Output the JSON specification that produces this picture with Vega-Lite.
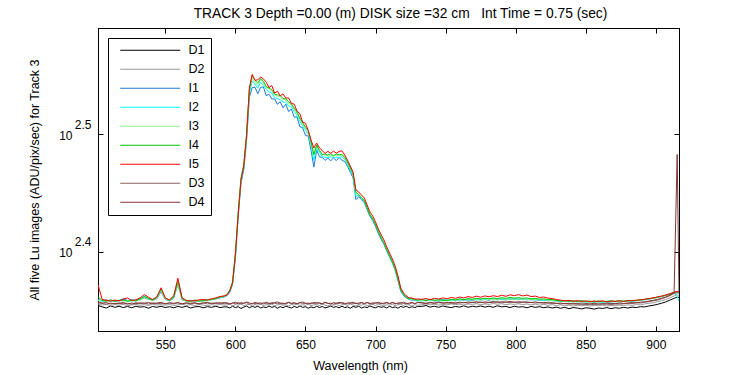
{
"$schema": "https://vega.github.io/schema/vega-lite/v6.json",
"width": 581, "height": 303,
"autosize": "none",
"padding": {"left": 98, "top": 28, "right": 71, "bottom": 44},
"background": "white",
"config": {
  "view": {"stroke": "black", "strokeWidth": 1},
  "font": "Liberation Sans",
  "axis": {"labelFont": "Liberation Sans", "titleFont": "Liberation Sans", "labelColor": "black", "titleColor": "black", "domainColor": "black", "tickColor": "black", "labelFontSize": 12, "titleFontSize": 12.5, "titleFontWeight": "normal", "grid": false, "tickSize": -5, "domainWidth": 1, "tickWidth": 1}
},
"title": {"text": "TRACK 3 Depth =0.00 (m) DISK size =32 cm\u00a0\u00a0\u00a0Int Time = 0.75 (sec)", "font": "Liberation Sans", "fontSize": 13.8, "fontWeight": "normal", "color": "black", "offset": 7, "dx": 12},
"data": {"values": [
{"w":502,"D1":226.2,"D2":226.9,"I1":228.9,"I2":228.6,"I3":228.4,"I4":230.1,"I5":235.6,"D3":227.4,"D4":227.9},
{"w":505,"D1":225.6,"D2":226.4,"I1":228.3,"I2":228.1,"I3":228.6,"I4":228.4,"I5":228.9,"D3":227.1,"D4":227.3},
{"w":508,"D1":225.1,"D2":226.7,"I1":228.7,"I2":228.4,"I3":227.9,"I4":228.2,"I5":228.5,"D3":226.8,"D4":227.5},
{"w":511,"D1":226.0,"D2":226.2,"I1":228.1,"I2":228.5,"I3":228.3,"I4":228.8,"I5":228.2,"D3":227.3,"D4":226.9},
{"w":514,"D1":225.4,"D2":226.6,"I1":228.5,"I2":228.0,"I3":228.1,"I4":228.0,"I5":228.6,"D3":226.9,"D4":227.2},
{"w":517,"D1":225.9,"D2":226.3,"I1":228.2,"I2":228.6,"I3":228.4,"I4":228.5,"I5":228.3,"D3":227.4,"D4":227.0},
{"w":520,"D1":225.3,"D2":226.8,"I1":229.3,"I2":228.8,"I3":228.2,"I4":228.6,"I5":229.0,"D3":227.0,"D4":227.6},
{"w":523,"D1":225.8,"D2":226.1,"I1":228.4,"I2":228.2,"I3":228.6,"I4":228.1,"I5":229.6,"D3":227.2,"D4":226.8},
{"w":526,"D1":225.2,"D2":226.5,"I1":228.8,"I2":228.4,"I3":228.0,"I4":228.6,"I5":228.4,"D3":226.7,"D4":227.3},
{"w":529,"D1":225.9,"D2":226.7,"I1":228.2,"I2":228.7,"I3":228.4,"I4":228.3,"I5":228.8,"D3":227.5,"D4":227.0},
{"w":532,"D1":225.5,"D2":226.3,"I1":228.7,"I2":229.0,"I3":228.5,"I4":229.2,"I5":229.6,"D3":227.0,"D4":227.4},
{"w":535,"D1":225.7,"D2":226.6,"I1":229.6,"I2":230.5,"I3":229.8,"I4":230.2,"I5":231.1,"D3":227.3,"D4":227.2},
{"w":538,"D1":225.0,"D2":226.2,"I1":229.0,"I2":229.3,"I3":228.9,"I4":229.4,"I5":229.9,"D3":226.8,"D4":227.5},
{"w":541,"D1":225.8,"D2":226.8,"I1":228.6,"I2":228.8,"I3":228.3,"I4":228.7,"I5":228.9,"D3":227.4,"D4":227.1},
{"w":544,"D1":225.4,"D2":226.4,"I1":229.2,"I2":229.6,"I3":229.3,"I4":229.9,"I5":230.1,"D3":227.0,"D4":227.3},
{"w":547,"D1":225.9,"D2":226.6,"I1":232.4,"I2":233.3,"I3":232.9,"I4":233.6,"I5":234.2,"D3":227.2,"D4":227.6},
{"w":550,"D1":225.3,"D2":226.3,"I1":228.9,"I2":229.3,"I3":229.1,"I4":229.7,"I5":229.6,"D3":226.9,"D4":227.0},
{"w":553,"D1":225.7,"D2":226.7,"I1":228.3,"I2":228.6,"I3":228.4,"I4":228.5,"I5":228.7,"D3":227.3,"D4":227.4},
{"w":556,"D1":225.2,"D2":226.2,"I1":229.4,"I2":229.8,"I3":229.6,"I4":230.0,"I5":230.6,"D3":226.9,"D4":227.2},
{"w":559,"D1":225.8,"D2":226.5,"I1":236.0,"I2":236.6,"I3":236.2,"I4":237.1,"I5":238.6,"D3":227.4,"D4":227.5},
{"w":562,"D1":225.4,"D2":226.8,"I1":228.7,"I2":229.2,"I3":229.0,"I4":229.4,"I5":229.6,"D3":227.0,"D4":226.9},
{"w":565,"D1":225.9,"D2":226.3,"I1":228.2,"I2":228.4,"I3":228.0,"I4":228.3,"I5":228.5,"D3":227.3,"D4":227.4},
{"w":568,"D1":225.1,"D2":226.6,"I1":228.5,"I2":228.1,"I3":227.6,"I4":228.2,"I5":228.2,"D3":226.8,"D4":227.1},
{"w":571,"D1":225.6,"D2":226.2,"I1":228.1,"I2":228.5,"I3":228.2,"I4":228.6,"I5":228.4,"D3":227.2,"D4":227.5},
{"w":574,"D1":225.8,"D2":226.7,"I1":228.4,"I2":228.2,"I3":228.5,"I4":228.1,"I5":228.7,"D3":227.0,"D4":226.9},
{"w":577,"D1":225.2,"D2":226.4,"I1":228.3,"I2":228.6,"I3":228.1,"I4":228.4,"I5":228.9,"D3":227.4,"D4":227.3},
{"w":580,"D1":225.7,"D2":226.1,"I1":228.6,"I2":228.3,"I3":228.4,"I4":228.8,"I5":228.6,"D3":226.9,"D4":227.6},
{"w":583,"D1":225.4,"D2":226.6,"I1":228.8,"I2":228.9,"I3":228.7,"I4":229.0,"I5":229.2,"D3":227.3,"D4":227.0},
{"w":586,"D1":225.9,"D2":226.3,"I1":229.1,"I2":229.4,"I3":229.2,"I4":229.3,"I5":229.6,"D3":227.1,"D4":227.4},
{"w":589,"D1":225.3,"D2":226.7,"I1":229.6,"I2":229.8,"I3":229.9,"I4":230.1,"I5":230.2,"D3":227.4,"D4":227.2},
{"w":592,"D1":225.6,"D2":226.4,"I1":230.0,"I2":230.2,"I3":230.1,"I4":230.4,"I5":230.5,"D3":227.0,"D4":227.5},
{"w":594,"D1":225.6,"D2":226.4,"I1":230.6,"I2":230.8,"I3":231.0,"I4":231.2,"I5":230.9,"D3":227.1,"D4":227.4},
{"w":596,"D1":225.1,"D2":226.8,"I1":232.1,"I2":232.5,"I3":232.9,"I4":233.1,"I5":232.7,"D3":226.8,"D4":227.0},
{"w":598,"D1":225.9,"D2":226.1,"I1":235.7,"I2":236.0,"I3":236.6,"I4":236.9,"I5":236.4,"D3":227.4,"D4":227.2},
{"w":600,"D1":225.3,"D2":226.6,"I1":248.0,"I2":249.0,"I3":250.3,"I4":250.5,"I5":249.7,"D3":227.0,"D4":227.7},
{"w":602,"D1":225.7,"D2":226.3,"I1":268.9,"I2":269.5,"I3":270.6,"I4":271.0,"I5":270.1,"D3":227.6,"D4":226.9},
{"w":604,"D1":224.9,"D2":226.9,"I1":287.4,"I2":288.3,"I3":289.7,"I4":290.2,"I5":289.2,"D3":226.9,"D4":227.5},
{"w":606,"D1":225.5,"D2":226.2,"I1":295.1,"I2":296.0,"I3":297.6,"I4":298.0,"I5":297.2,"D3":227.3,"D4":227.1},
{"w":608,"D1":226.0,"D2":226.5,"I1":312.4,"I2":313.9,"I3":315.2,"I4":316.4,"I5":315.8,"D3":227.5,"D4":227.8},
{"w":610,"D1":225.2,"D2":226.7,"I1":340.1,"I2":342.8,"I3":344.5,"I4":345.3,"I5":346.2,"D3":226.7,"D4":227.3},
{"w":612,"D1":225.8,"D2":226.0,"I1":346.5,"I2":350.6,"I3":352.7,"I4":354.8,"I5":355.6,"D3":227.2,"D4":226.9},
{"w":614,"D1":225.4,"D2":226.7,"I1":346.8,"I2":348.9,"I3":350.1,"I4":351.5,"I5":351.5,"D3":227.0,"D4":227.6},
{"w":616,"D1":225.9,"D2":226.3,"I1":342.4,"I2":346.1,"I3":347.8,"I4":349.6,"I5":351.8,"D3":227.4,"D4":227.1},
{"w":618,"D1":225.1,"D2":226.8,"I1":346.7,"I2":350.2,"I3":352.1,"I4":352.8,"I5":353.8,"D3":226.8,"D4":227.4},
{"w":620,"D1":225.6,"D2":226.2,"I1":347.0,"I2":348.0,"I3":349.6,"I4":350.9,"I5":352.5,"D3":227.5,"D4":226.9},
{"w":622,"D1":225.3,"D2":226.6,"I1":341.1,"I2":345.4,"I3":346.5,"I4":347.2,"I5":350.2,"D3":227.1,"D4":227.7},
{"w":624,"D1":226.0,"D2":226.4,"I1":342.1,"I2":343.6,"I3":345.8,"I4":346.3,"I5":346.5,"D3":226.9,"D4":227.2},
{"w":626,"D1":225.4,"D2":226.9,"I1":338.9,"I2":342.9,"I3":343.8,"I4":345.0,"I5":347.9,"D3":227.6,"D4":227.0},
{"w":628,"D1":225.8,"D2":226.1,"I1":338.9,"I2":339.6,"I3":341.2,"I4":342.1,"I5":342.8,"D3":227.2,"D4":227.5},
{"w":630,"D1":225.0,"D2":226.5,"I1":335.4,"I2":339.3,"I3":340.8,"I4":341.6,"I5":344.1,"D3":227.0,"D4":227.8},
{"w":632,"D1":225.7,"D2":226.8,"I1":337.0,"I2":338.4,"I3":340.2,"I4":341.3,"I5":341.0,"D3":227.4,"D4":227.1},
{"w":634,"D1":225.2,"D2":226.3,"I1":333.1,"I2":336.9,"I3":338.5,"I4":339.2,"I5":342.3,"D3":226.8,"D4":227.3},
{"w":636,"D1":225.9,"D2":226.6,"I1":335.5,"I2":336.7,"I3":338.1,"I4":339.0,"I5":339.5,"D3":227.3,"D4":226.9},
{"w":638,"D1":225.5,"D2":226.0,"I1":330.6,"I2":334.3,"I3":336.0,"I4":337.0,"I5":339.6,"D3":227.6,"D4":227.6},
{"w":640,"D1":225.1,"D2":226.7,"I1":332.3,"I2":333.5,"I3":335.0,"I4":335.6,"I5":336.0,"D3":227.0,"D4":227.2},
{"w":642,"D1":225.8,"D2":226.4,"I1":327.0,"I2":330.6,"I3":332.0,"I4":332.9,"I5":335.5,"D3":227.2,"D4":227.5},
{"w":644,"D1":225.3,"D2":226.9,"I1":327.2,"I2":328.2,"I3":329.7,"I4":330.4,"I5":330.9,"D3":226.9,"D4":227.0},
{"w":646,"D1":226.0,"D2":226.2,"I1":321.0,"I2":324.3,"I3":325.8,"I4":326.5,"I5":329.3,"D3":227.5,"D4":227.4},
{"w":648,"D1":225.4,"D2":226.6,"I1":320.4,"I2":321.4,"I3":322.6,"I4":323.4,"I5":323.8,"D3":227.1,"D4":227.8},
{"w":650,"D1":225.7,"D2":226.3,"I1":315.5,"I2":318.8,"I3":320.0,"I4":320.9,"I5":323.2,"D3":227.3,"D4":227.1},
{"w":652,"D1":225.0,"D2":226.8,"I1":315.2,"I2":316.4,"I3":317.6,"I4":318.4,"I5":318.6,"D3":226.8,"D4":227.3},
{"w":654,"D1":225.6,"D2":226.1,"I1":306.5,"I2":309.3,"I3":310.9,"I4":311.6,"I5":312.7,"D3":227.4,"D4":226.9},
{"w":656,"D1":225.2,"D2":226.5,"I1":296.6,"I2":300.5,"I3":303.2,"I4":304.0,"I5":307.9,"D3":227.0,"D4":227.6},
{"w":658,"D1":225.9,"D2":226.7,"I1":306.6,"I2":307.8,"I3":309.0,"I4":309.7,"I5":310.9,"D3":227.6,"D4":227.2},
{"w":660,"D1":225.3,"D2":226.2,"I1":302.6,"I2":305.1,"I3":306.2,"I4":306.5,"I5":307.9,"D3":227.2,"D4":227.4},
{"w":662,"D1":225.8,"D2":226.9,"I1":302.3,"I2":302.6,"I3":303.6,"I4":304.0,"I5":306.4,"D3":226.9,"D4":227.0},
{"w":664,"D1":225.1,"D2":226.4,"I1":300.5,"I2":302.4,"I3":303.9,"I4":304.3,"I5":304.6,"D3":227.5,"D4":227.7},
{"w":666,"D1":225.5,"D2":226.0,"I1":301.9,"I2":302.1,"I3":303.0,"I4":303.6,"I5":305.9,"D3":227.1,"D4":227.2},
{"w":668,"D1":226.0,"D2":226.6,"I1":300.2,"I2":302.7,"I3":303.4,"I4":304.5,"I5":304.7,"D3":227.3,"D4":226.9},
{"w":670,"D1":225.4,"D2":226.3,"I1":302.0,"I2":301.8,"I3":303.1,"I4":303.3,"I5":306.0,"D3":226.8,"D4":227.5},
{"w":672,"D1":225.7,"D2":226.8,"I1":300.4,"I2":302.5,"I3":303.8,"I4":304.2,"I5":304.8,"D3":227.4,"D4":227.1},
{"w":674,"D1":225.2,"D2":226.1,"I1":302.1,"I2":302.0,"I3":303.0,"I4":303.8,"I5":305.8,"D3":227.0,"D4":227.6},
{"w":676,"D1":225.9,"D2":226.5,"I1":300.7,"I2":302.8,"I3":304.0,"I4":304.1,"I5":306.2,"D3":227.6,"D4":227.3},
{"w":678,"D1":225.3,"D2":226.7,"I1":299.8,"I2":301.0,"I3":302.1,"I4":302.3,"I5":303.7,"D3":227.2,"D4":226.9},
{"w":680,"D1":225.6,"D2":226.2,"I1":297.1,"I2":298.2,"I3":299.2,"I4":299.6,"I5":300.7,"D3":226.9,"D4":227.4},
{"w":682,"D1":225.0,"D2":226.9,"I1":293.6,"I2":294.8,"I3":295.7,"I4":296.0,"I5":297.2,"D3":227.5,"D4":227.2},
{"w":684,"D1":225.8,"D2":226.4,"I1":290.4,"I2":291.4,"I3":292.3,"I4":292.6,"I5":293.7,"D3":227.1,"D4":227.7},
{"w":686,"D1":225.4,"D2":226.0,"I1":278.3,"I2":280.1,"I3":281.9,"I4":282.4,"I5":283.6,"D3":227.3,"D4":227.0},
{"w":688,"D1":225.9,"D2":226.6,"I1":279.8,"I2":280.6,"I3":281.3,"I4":281.0,"I5":282.5,"D3":226.8,"D4":227.3},
{"w":690,"D1":225.1,"D2":226.3,"I1":278.3,"I2":279.0,"I3":279.6,"I4":279.3,"I5":280.8,"D3":227.4,"D4":227.6},
{"w":692,"D1":225.6,"D2":226.8,"I1":276.6,"I2":277.4,"I3":278.0,"I4":277.8,"I5":279.2,"D3":227.0,"D4":227.1},
{"w":694,"D1":225.3,"D2":226.1,"I1":272.9,"I2":273.6,"I3":274.3,"I4":273.9,"I5":275.4,"D3":227.6,"D4":227.5},
{"w":696,"D1":226.0,"D2":226.5,"I1":269.3,"I2":269.9,"I3":270.4,"I4":270.1,"I5":271.6,"D3":227.2,"D4":226.9},
{"w":698,"D1":225.5,"D2":226.7,"I1":267.1,"I2":267.8,"I3":268.3,"I4":268.0,"I5":269.5,"D3":226.9,"D4":227.4},
{"w":700,"D1":225.2,"D2":226.2,"I1":264.0,"I2":264.7,"I3":265.2,"I4":264.9,"I5":266.4,"D3":227.5,"D4":227.2},
{"w":702,"D1":225.8,"D2":226.9,"I1":260.5,"I2":261.2,"I3":261.7,"I4":261.3,"I5":262.8,"D3":227.1,"D4":227.7},
{"w":704,"D1":225.4,"D2":226.4,"I1":257.5,"I2":258.1,"I3":258.6,"I4":258.2,"I5":259.7,"D3":227.3,"D4":227.0},
{"w":706,"D1":225.7,"D2":226.0,"I1":255.0,"I2":255.6,"I3":256.0,"I4":255.7,"I5":257.2,"D3":226.8,"D4":227.3},
{"w":708,"D1":225.1,"D2":226.6,"I1":251.7,"I2":252.2,"I3":252.6,"I4":252.3,"I5":253.7,"D3":227.4,"D4":227.6},
{"w":710,"D1":225.9,"D2":226.3,"I1":248.7,"I2":249.2,"I3":249.6,"I4":249.3,"I5":250.7,"D3":227.0,"D4":227.1},
{"w":712,"D1":225.3,"D2":226.8,"I1":245.9,"I2":246.4,"I3":246.7,"I4":246.4,"I5":247.8,"D3":227.6,"D4":227.5},
{"w":714,"D1":225.6,"D2":226.1,"I1":242.5,"I2":243.0,"I3":243.4,"I4":243.1,"I5":244.4,"D3":227.2,"D4":226.9},
{"w":716,"D1":225.0,"D2":226.5,"I1":237.5,"I2":238.1,"I3":238.6,"I4":238.2,"I5":239.7,"D3":226.9,"D4":227.4},
{"w":718,"D1":225.8,"D2":226.7,"I1":232.6,"I2":233.1,"I3":233.6,"I4":233.2,"I5":234.1,"D3":227.5,"D4":227.2},
{"w":720,"D1":225.4,"D2":226.2,"I1":230.6,"I2":231.0,"I3":231.4,"I4":231.2,"I5":231.8,"D3":227.1,"D4":227.7},
{"w":722,"D1":225.9,"D2":226.9,"I1":229.6,"I2":229.9,"I3":230.2,"I4":230.0,"I5":230.5,"D3":227.3,"D4":227.0},
{"w":724,"D1":225.2,"D2":226.4,"I1":228.9,"I2":229.1,"I3":229.3,"I4":229.2,"I5":229.6,"D3":226.8,"D4":227.3},
{"w":726,"D1":225.7,"D2":226.0,"I1":228.6,"I2":228.9,"I3":229.0,"I4":229.3,"I5":229.6,"D3":227.4,"D4":227.6},
{"w":728,"D1":225.3,"D2":226.6,"I1":228.5,"I2":228.8,"I3":228.6,"I4":228.9,"I5":229.1,"D3":227.0,"D4":227.1},
{"w":730,"D1":225.8,"D2":226.3,"I1":228.3,"I2":228.4,"I3":228.7,"I4":228.6,"I5":229.1,"D3":227.6,"D4":227.5},
{"w":733,"D1":225.8,"D2":226.6,"I1":228.6,"I2":228.2,"I3":228.5,"I4":228.9,"I5":229.0,"D3":227.3,"D4":227.5},
{"w":736,"D1":226.2,"D2":226.9,"I1":228.3,"I2":228.7,"I3":228.2,"I4":228.4,"I5":229.3,"D3":227.0,"D4":227.2},
{"w":739,"D1":225.5,"D2":226.5,"I1":228.7,"I2":228.4,"I3":228.8,"I4":229.1,"I5":228.8,"D3":227.4,"D4":227.6},
{"w":742,"D1":225.9,"D2":226.8,"I1":228.2,"I2":228.6,"I3":228.3,"I4":228.5,"I5":229.4,"D3":227.1,"D4":227.3},
{"w":745,"D1":225.4,"D2":226.4,"I1":228.5,"I2":228.1,"I3":228.6,"I4":228.8,"I5":229.1,"D3":227.5,"D4":227.7},
{"w":748,"D1":226.0,"D2":226.7,"I1":228.8,"I2":228.5,"I3":228.2,"I4":228.6,"I5":229.6,"D3":227.2,"D4":227.4},
{"w":751,"D1":225.6,"D2":226.5,"I1":228.4,"I2":228.8,"I3":228.5,"I4":228.3,"I5":229.2,"D3":227.6,"D4":227.3},
{"w":754,"D1":225.3,"D2":226.9,"I1":228.6,"I2":228.3,"I3":228.7,"I4":229.0,"I5":229.8,"D3":227.1,"D4":227.6},
{"w":757,"D1":225.8,"D2":226.6,"I1":228.3,"I2":228.6,"I3":228.4,"I4":228.7,"I5":229.4,"D3":227.4,"D4":227.2},
{"w":760,"D1":225.5,"D2":226.8,"I1":228.9,"I2":228.5,"I3":228.8,"I4":229.2,"I5":230.0,"D3":227.3,"D4":227.7},
{"w":763,"D1":226.1,"D2":226.4,"I1":228.6,"I2":229.0,"I3":228.6,"I4":228.8,"I5":229.6,"D3":227.6,"D4":227.4},
{"w":766,"D1":225.4,"D2":226.9,"I1":228.8,"I2":228.6,"I3":229.1,"I4":229.3,"I5":230.2,"D3":227.2,"D4":227.8},
{"w":769,"D1":225.9,"D2":226.7,"I1":228.5,"I2":228.9,"I3":228.7,"I4":229.0,"I5":229.8,"D3":227.7,"D4":227.5},
{"w":772,"D1":225.6,"D2":227.0,"I1":229.0,"I2":228.7,"I3":228.9,"I4":229.4,"I5":230.4,"D3":227.4,"D4":227.9},
{"w":775,"D1":226.0,"D2":226.6,"I1":228.7,"I2":229.1,"I3":228.6,"I4":229.1,"I5":229.9,"D3":227.8,"D4":227.5},
{"w":778,"D1":225.5,"D2":226.9,"I1":228.9,"I2":228.8,"I3":229.2,"I4":229.5,"I5":230.5,"D3":227.3,"D4":227.8},
{"w":781,"D1":225.9,"D2":226.7,"I1":228.6,"I2":229.0,"I3":228.8,"I4":229.2,"I5":230.1,"D3":227.6,"D4":227.6},
{"w":784,"D1":225.4,"D2":227.1,"I1":229.1,"I2":228.7,"I3":229.0,"I4":229.6,"I5":230.6,"D3":227.5,"D4":228.0},
{"w":787,"D1":226.1,"D2":226.8,"I1":228.8,"I2":229.2,"I3":228.7,"I4":229.3,"I5":230.2,"D3":227.9,"D4":227.6},
{"w":790,"D1":225.6,"D2":227.0,"I1":229.0,"I2":228.9,"I3":229.3,"I4":229.7,"I5":230.8,"D3":227.4,"D4":227.9},
{"w":793,"D1":225.8,"D2":226.6,"I1":228.7,"I2":229.1,"I3":228.9,"I4":229.4,"I5":230.3,"D3":227.7,"D4":227.7},
{"w":796,"D1":225.3,"D2":226.9,"I1":229.2,"I2":228.8,"I3":229.1,"I4":229.8,"I5":231.0,"D3":227.5,"D4":228.0},
{"w":799,"D1":225.9,"D2":226.7,"I1":228.9,"I2":229.3,"I3":228.8,"I4":229.5,"I5":230.6,"D3":227.8,"D4":227.6},
{"w":802,"D1":225.5,"D2":227.0,"I1":229.1,"I2":228.9,"I3":229.2,"I4":229.7,"I5":231.1,"D3":227.4,"D4":227.9},
{"w":805,"D1":225.7,"D2":226.6,"I1":228.8,"I2":229.1,"I3":228.9,"I4":229.4,"I5":230.5,"D3":227.7,"D4":227.7},
{"w":808,"D1":225.2,"D2":226.9,"I1":229.0,"I2":228.7,"I3":229.1,"I4":229.6,"I5":230.9,"D3":227.5,"D4":227.8},
{"w":811,"D1":225.8,"D2":226.5,"I1":228.7,"I2":229.0,"I3":228.8,"I4":229.2,"I5":230.2,"D3":227.6,"D4":227.5},
{"w":814,"D1":225.4,"D2":226.8,"I1":228.9,"I2":228.6,"I3":229.0,"I4":229.4,"I5":230.4,"D3":227.3,"D4":227.8},
{"w":817,"D1":225.7,"D2":226.4,"I1":228.5,"I2":228.9,"I3":228.6,"I4":229.0,"I5":229.8,"D3":227.5,"D4":227.4},
{"w":820,"D1":225.2,"D2":226.7,"I1":228.7,"I2":228.4,"I3":228.8,"I4":229.2,"I5":230.0,"D3":227.2,"D4":227.6},
{"w":823,"D1":225.6,"D2":226.3,"I1":228.3,"I2":228.7,"I3":228.4,"I4":228.8,"I5":229.5,"D3":227.4,"D4":227.3},
{"w":826,"D1":225.1,"D2":226.6,"I1":228.5,"I2":228.3,"I3":228.6,"I4":228.9,"I5":229.3,"D3":227.1,"D4":227.5},
{"w":829,"D1":225.5,"D2":226.2,"I1":228.1,"I2":228.5,"I3":228.2,"I4":228.5,"I5":228.9,"D3":227.2,"D4":227.1},
{"w":832,"D1":225.0,"D2":226.5,"I1":228.3,"I2":228.0,"I3":228.4,"I4":228.2,"I5":228.6,"D3":226.9,"D4":227.3},
{"w":835,"D1":225.4,"D2":226.1,"I1":227.9,"I2":228.3,"I3":228.0,"I4":228.4,"I5":228.3,"D3":227.1,"D4":227.0},
{"w":838,"D1":224.8,"D2":226.4,"I1":228.2,"I2":227.9,"I3":228.3,"I4":228.1,"I5":228.5,"D3":226.8,"D4":227.2},
{"w":841,"D1":225.3,"D2":226.0,"I1":227.8,"I2":228.2,"I3":227.8,"I4":228.3,"I5":228.1,"D3":227.0,"D4":226.9},
{"w":844,"D1":225.1,"D2":226.3,"I1":228.1,"I2":227.8,"I3":228.1,"I4":228.0,"I5":228.4,"D3":226.7,"D4":227.2},
{"w":847,"D1":224.7,"D2":226.1,"I1":227.7,"I2":228.1,"I3":227.7,"I4":228.4,"I5":228.0,"D3":226.9,"D4":226.8},
{"w":850,"D1":225.2,"D2":226.4,"I1":228.0,"I2":227.7,"I3":228.0,"I4":227.9,"I5":228.3,"D3":226.6,"D4":227.1},
{"w":853,"D1":225.0,"D2":226.0,"I1":227.8,"I2":228.0,"I3":227.6,"I4":228.2,"I5":227.9,"D3":226.8,"D4":226.9},
{"w":856,"D1":224.6,"D2":226.3,"I1":228.1,"I2":227.6,"I3":227.9,"I4":227.8,"I5":228.2,"D3":226.6,"D4":227.2},
{"w":859,"D1":225.1,"D2":226.1,"I1":227.7,"I2":227.9,"I3":227.7,"I4":228.3,"I5":228.0,"D3":226.9,"D4":226.8},
{"w":862,"D1":224.9,"D2":226.4,"I1":228.0,"I2":227.6,"I3":228.0,"I4":227.9,"I5":228.3,"D3":226.7,"D4":227.1},
{"w":865,"D1":225.3,"D2":226.0,"I1":227.6,"I2":228.0,"I3":227.8,"I4":228.1,"I5":227.8,"D3":226.9,"D4":226.9},
{"w":868,"D1":224.8,"D2":226.3,"I1":227.9,"I2":227.7,"I3":228.1,"I4":228.3,"I5":228.2,"D3":226.6,"D4":227.2},
{"w":871,"D1":225.2,"D2":226.1,"I1":228.0,"I2":228.1,"I3":227.8,"I4":228.0,"I5":228.1,"D3":226.9,"D4":227.0},
{"w":874,"D1":225.0,"D2":226.4,"I1":227.8,"I2":227.8,"I3":228.0,"I4":228.4,"I5":228.3,"D3":226.8,"D4":227.3},
{"w":877,"D1":225.4,"D2":226.2,"I1":228.1,"I2":228.0,"I3":228.2,"I4":228.1,"I5":228.0,"D3":227.0,"D4":227.1},
{"w":880,"D1":225.1,"D2":226.5,"I1":228.0,"I2":228.2,"I3":228.1,"I4":228.3,"I5":228.4,"D3":227.2,"D4":227.3},
{"w":883,"D1":225.5,"D2":226.3,"I1":228.2,"I2":228.0,"I3":228.3,"I4":228.5,"I5":228.3,"D3":227.1,"D4":227.5},
{"w":886,"D1":225.3,"D2":226.6,"I1":228.4,"I2":228.3,"I3":228.2,"I4":228.4,"I5":228.6,"D3":227.4,"D4":227.4},
{"w":889,"D1":225.7,"D2":226.5,"I1":228.5,"I2":228.6,"I3":228.6,"I4":228.8,"I5":228.7,"D3":227.3,"D4":227.7},
{"w":892,"D1":225.6,"D2":226.9,"I1":228.9,"I2":228.7,"I3":228.8,"I4":228.9,"I5":229.0,"D3":227.7,"D4":227.8},
{"w":895,"D1":226.0,"D2":227.2,"I1":229.0,"I2":229.2,"I3":229.1,"I4":229.3,"I5":229.3,"D3":227.9,"D4":228.2},
{"w":898,"D1":226.3,"D2":227.4,"I1":229.5,"I2":229.3,"I3":229.4,"I4":229.5,"I5":229.6,"D3":228.3,"D4":228.5},
{"w":901,"D1":226.7,"D2":227.9,"I1":229.8,"I2":229.9,"I3":229.7,"I4":230.0,"I5":230.0,"D3":228.6,"D4":228.9},
{"w":904,"D1":227.2,"D2":228.3,"I1":230.3,"I2":230.2,"I3":230.4,"I4":230.3,"I5":230.4,"D3":229.2,"D4":229.4},
{"w":907,"D1":227.8,"D2":228.9,"I1":230.7,"I2":230.9,"I3":230.6,"I4":230.8,"I5":230.9,"D3":229.8,"D4":230.0},
{"w":910,"D1":228.6,"D2":229.6,"I1":231.4,"I2":231.3,"I3":231.5,"I4":231.3,"I5":231.5,"D3":230.6,"D4":230.8},
{"w":913,"D1":229.4,"D2":230.5,"I1":232.0,"I2":231.8,"I3":232.1,"I4":231.9,"I5":232.2,"D3":231.6,"D4":231.9},
{"w":915.2,"D1":230.0,"D2":231.0,"I1":232.4,"I2":230.5,"I3":232.3,"I4":232.0,"I5":232.5,"D3":232.0,"D4":304.0},
{"w":916.5,"D1":229.8,"D2":230.8,"I1":232.2,"I2":228.0,"I3":232.1,"I4":231.8,"I5":232.3,"D3":231.8,"D4":232.4}
]},
"transform": [{"fold": ["D1","D2","I1","I2","I3","I4","I5","D3","D4"], "as": ["series","value"]}],
"layer": [
  {
    "mark": {"type": "line", "strokeWidth": 1, "clip": true},
    "encoding": {
      "x": {"field": "w", "type": "quantitative", "scale": {"domain": [502, 916.5], "nice": false, "zero": false},
            "axis": {"values": [550,600,650,700,750,800,850,900], "title": "Wavelength (nm)", "labelPadding": 13, "titlePadding": 9, "titleX": 262}},
      "y": {"field": "value", "type": "quantitative", "scale": {"type": "log", "domain": [215.2, 389.4], "nice": false},
            "axis": {"values": [251.19, 316.23], "labelExpr": "'10'", "labelOffset": 1, "labelPadding": 31, "labelBaseline": "middle", "labelAlign": "right", "title": "All five Lu images (ADU/pix/sec) for Track 3", "titlePadding": 17}},
      "color": {"field": "series", "type": "nominal",
        "scale": {"domain": ["D1","D2","I1","I2","I3","I4","I5","D3","D4"], "range": ["#000000","#999999","#1f78d8","#00ffff","#90ee90","#00c800","#ff0000","#8a6262","#803434"]},
        "legend": {"orient": "none", "legendX": 10, "legendY": 10, "title": null, "symbolType": "M0,0H12", "symbolSize": 100, "symbolStrokeWidth": 1, "labelFontSize": 12.5, "labelFont": "Liberation Sans", "labelColor": "black", "strokeColor": "black", "fillColor": "white", "padding": 6, "labelOffset": 62, "rowPadding": 6}
      }
    }
  },
  {
    "mark": {"type": "point", "opacity": 0},
    "encoding": {
      "x": {"field": "w", "type": "quantitative", "axis": {"orient": "top", "values": [550,600,650,700,750,800,850,900], "labels": false, "title": null}},
      "y": {"field": "value", "type": "quantitative", "axis": {"orient": "right", "values": [251.19, 316.23], "labels": false, "title": null}}
    }
  },
  {
    "mark": {"type": "point", "opacity": 0},
    "encoding": {
      "x": {"field": "w", "type": "quantitative", "axis": null},
      "y": {"field": "value", "type": "quantitative", "axis": {"orient": "left", "values": [251.19, 316.23], "labelExpr": "datum.value < 280 ? '2.4' : '2.5'", "labelOffset": -10, "labelPadding": 12, "labelBaseline": "middle", "labelAlign": "right", "domain": false, "tickOpacity": 0, "title": null}}
    }
  }
],
"resolve": {"axis": {"x": "independent", "y": "independent"}}
}
